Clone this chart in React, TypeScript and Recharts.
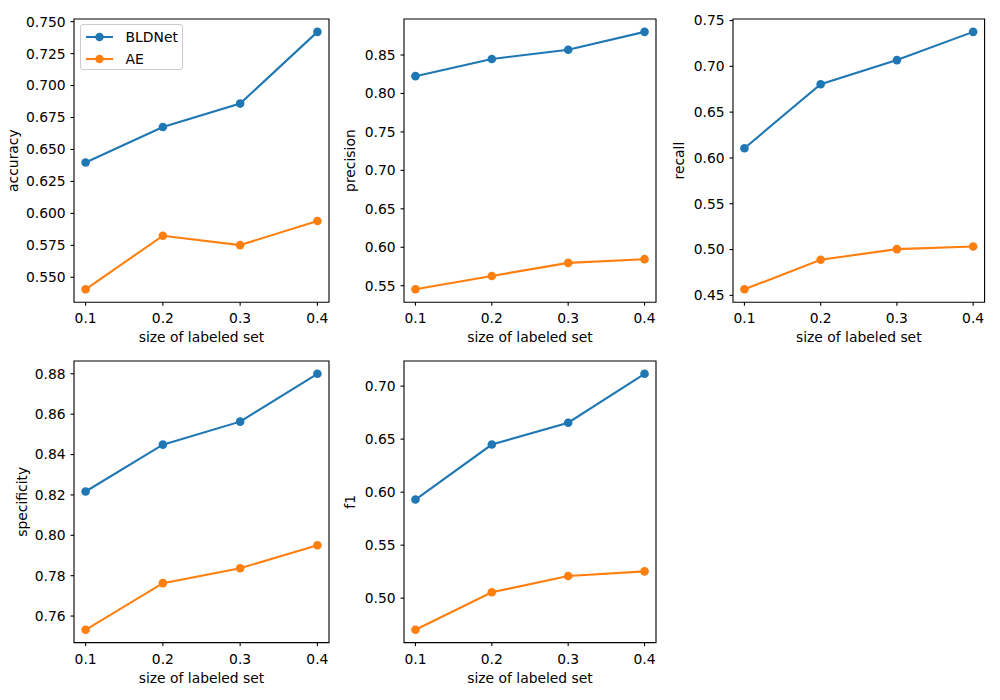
import React from 'react';
import { LineChart, Line, XAxis, YAxis, ReferenceArea, Legend } from 'recharts';

const sizes = [0.1, 0.2, 0.3, 0.4];
const xTicks = [0.1, 0.2, 0.3, 0.4];

const accuracyBLDNet = [0.6398, 0.6676, 0.6859, 0.742];
const accuracyAE = [0.5406, 0.5825, 0.5752, 0.5941];
const accuracyTicks = [0.55, 0.575, 0.6, 0.625, 0.65, 0.675, 0.7, 0.725, 0.75];

const precisionBLDNet = [0.8225, 0.8448, 0.8569, 0.8801];
const precisionAE = [0.5453, 0.5627, 0.5797, 0.5845];
const precisionTicks = [0.55, 0.6, 0.65, 0.7, 0.75, 0.8, 0.85];

const recallBLDNet = [0.6106, 0.6805, 0.7068, 0.7376];
const recallAE = [0.4566, 0.4888, 0.5005, 0.5034];
const recallTicks = [0.45, 0.5, 0.55, 0.6, 0.65, 0.7, 0.75];

const specificityBLDNet = [0.8217, 0.8449, 0.8563, 0.88];
const specificityAE = [0.7532, 0.7763, 0.7837, 0.7951];
const specificityTicks = [0.76, 0.78, 0.8, 0.82, 0.84, 0.86, 0.88];

const f1BLDNet = [0.593, 0.6449, 0.6655, 0.7116];
const f1AE = [0.4702, 0.5056, 0.5209, 0.5253];
const f1Ticks = [0.5, 0.55, 0.6, 0.65, 0.7];

const seriesNames = ['BLDNet', 'AE'];
const xLabelText = 'size of labeled set';

const BLUE = '#1f77b4';
const ORANGE = '#ff7f0e';
const FONT = 'DejaVu Sans';
const FS = 13.9;

const LP = 70, TP = 10, RP = 12, BP = 50;
const xDomain = [0.085, 0.415];

const tickStyle = { fill: '#000', fontSize: FS, fontFamily: FONT };

type PanelProps = {
  left: number; top: number; w: number; h: number;
  bld: number[]; ae: number[]; ticks: number[]; decimals: number;
  ylabel: string; labelX: number; legend?: boolean;
};

function Panel(p: PanelProps) {
  const data = sizes.map((x, i) => ({ x, [seriesNames[0]]: p.bld[i], [seriesNames[1]]: p.ae[i] }));
  const all = [...p.bld, ...p.ae];
  const mn = Math.min(...all);
  const mx = Math.max(...all);
  const pad = (mx - mn) * 0.05;
  const yDomain = [mn - pad, mx + pad];
  const cl = p.left - LP;
  const ct = p.top - TP;
  const W = p.w + LP + RP;
  const H = p.h + TP + BP;
  const yLabelLocalX = p.labelX - cl;
  const yLabelLocalY = TP + p.h / 2;
  const xLabelLocalX = LP + p.w / 2;
  const xLabelLocalY = TP + p.h + 40;

  const renderLegend = (props: any) => {
    const payload = [...(props.payload || [])].sort(
      (a: any, b: any) => seriesNames.indexOf(a.value) - seriesNames.indexOf(b.value)
    );
    return (
      <div style={{
        border: '1px solid #cccccc', borderRadius: 3, background: 'rgba(255,255,255,0.8)',
        width: 103, height: 46, boxSizing: 'border-box', paddingTop: 0.5,
        fontFamily: FONT, fontSize: FS, color: '#000',
      }}>
        {payload.map((entry: any) => (
          <div key={entry.value} style={{ display: 'flex', alignItems: 'center', height: 22.3 }}>
            <svg width={27} height={12} style={{ marginLeft: 4.7, marginRight: 12.6, flex: 'none' }}>
              <line x1={0} y1={6} x2={27} y2={6} stroke={entry.color} strokeWidth={2.1} />
              <circle cx={13.5} cy={6} r={4.2} fill={entry.color} />
            </svg>
            <span style={{ lineHeight: '16px' }}>{entry.value}</span>
          </div>
        ))}
      </div>
    );
  };

  return (
    <div style={{ position: 'absolute', left: cl, top: ct, width: W, height: H }}>
      <LineChart width={W} height={H} data={data} margin={{ top: TP, right: RP, bottom: 0, left: 0 }}>
        <XAxis
          type="number" dataKey="x" domain={xDomain} ticks={xTicks} allowDataOverflow interval={0}
          tickFormatter={(v: number) => v.toFixed(1)} tick={tickStyle} tickSize={3.5} tickMargin={7.6}
          tickLine={{ stroke: '#000', strokeWidth: 1.1 }} axisLine={false} height={BP}
          label={() => (
            <text x={xLabelLocalX} y={xLabelLocalY} textAnchor="middle" fontFamily={FONT} fontSize={FS} fill="#000">
              {xLabelText}
            </text>
          )}
        />
        <YAxis
          type="number" domain={yDomain} ticks={p.ticks} allowDataOverflow interval={0}
          tickFormatter={(v: number) => v.toFixed(p.decimals)} tick={tickStyle} tickSize={3.5} tickMargin={4.8}
          tickLine={{ stroke: '#000', strokeWidth: 1.1 }} axisLine={false} width={LP}
          label={() => (
            <text x={yLabelLocalX} y={yLabelLocalY} textAnchor="middle" fontFamily={FONT} fontSize={FS} fill="#000"
              transform={`rotate(-90, ${yLabelLocalX}, ${yLabelLocalY})`}>
              {p.ylabel}
            </text>
          )}
        />
        <ReferenceArea x1={xDomain[0]} x2={xDomain[1]} y1={yDomain[0]} y2={yDomain[1]}
          fill="none" fillOpacity={0} stroke="#000" strokeWidth={1.1} ifOverflow="visible" />
        <Line type="linear" dataKey={seriesNames[0]} name={seriesNames[0]} stroke={BLUE} strokeWidth={2.1}
          dot={{ r: 4.3, fill: BLUE, stroke: BLUE, strokeWidth: 0 }} activeDot={false} isAnimationActive={false} />
        <Line type="linear" dataKey={seriesNames[1]} name={seriesNames[1]} stroke={ORANGE} strokeWidth={2.1}
          dot={{ r: 4.3, fill: ORANGE, stroke: ORANGE, strokeWidth: 0 }} activeDot={false} isAnimationActive={false} />
        {p.legend && (
          <Legend layout="horizontal" verticalAlign="middle" align="center" content={renderLegend}
            wrapperStyle={{ position: 'absolute', left: 80.3 - cl, top: 24 - ct, width: 110, height: 46 }} />
        )}
      </LineChart>
    </div>
  );
}

export default function App() {
  return (
    <div style={{ position: 'absolute', left: 0, top: 0, width: 1000, height: 700, background: '#fff' }}>
      <Panel left={74} top={18.5} w={255} h={283.2} bld={accuracyBLDNet} ae={accuracyAE} ticks={accuracyTicks}
        decimals={3} ylabel="accuracy" labelX={18} legend />
      <Panel left={404.3} top={18.5} w={252} h={283.2} bld={precisionBLDNet} ae={precisionAE} ticks={precisionTicks}
        decimals={2} ylabel="precision" labelX={355.5} />
      <Panel left={732.7} top={18.5} w={251.6} h={283.2} bld={recallBLDNet} ae={recallAE} ticks={recallTicks}
        decimals={2} ylabel="recall" labelX={683.5} />
      <Panel left={74} top={360.7} w={255} h={281.6} bld={specificityBLDNet} ae={specificityAE} ticks={specificityTicks}
        decimals={2} ylabel="specificity" labelX={26.8} />
      <Panel left={404.3} top={360.7} w={252} h={281.6} bld={f1BLDNet} ae={f1AE} ticks={f1Ticks}
        decimals={2} ylabel="f1" labelX={355.5} />
    </div>
  );
}
